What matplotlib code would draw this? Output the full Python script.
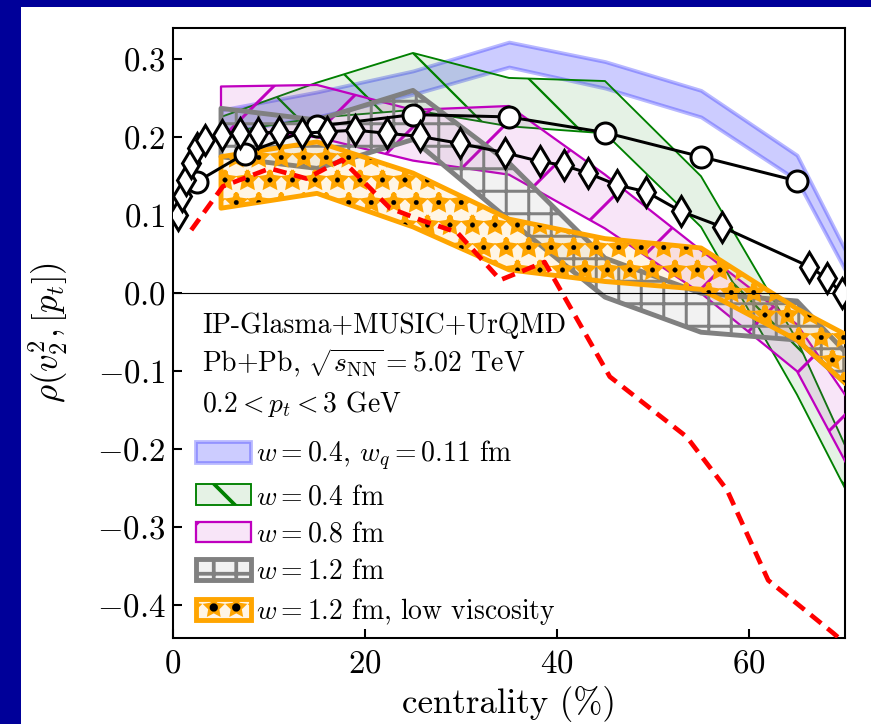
import matplotlib
matplotlib.use("Agg")
import matplotlib.pyplot as plt
from matplotlib.legend_handler import HandlerTuple

plt.rcParams.update({
    "font.family": "serif",
    "font.serif": ["cmr10"],
    "mathtext.fontset": "cm",
    "axes.formatter.use_mathtext": True,
    "axes.unicode_minus": True,
})

# band nodes (centrality %)
cent = [5, 15, 25, 35, 45, 55, 65, 75]

blue_lo = [0.205, 0.226, 0.255, 0.290, 0.263, 0.226, 0.145, -0.085]
blue_hi = [0.235, 0.258, 0.285, 0.322, 0.297, 0.260, 0.177, -0.065]

green_lo = [0.205, 0.225, 0.235, 0.214, 0.205, 0.085, -0.130, -0.370]
green_hi = [0.226, 0.270, 0.308, 0.276, 0.272, 0.150, -0.060, -0.330]

mag_lo = [0.210, 0.200, 0.170, 0.152, 0.083, 0.000, -0.100, -0.330]
mag_hi = [0.265, 0.267, 0.235, 0.240, 0.152, 0.055, -0.040, -0.220]

gray_lo = [0.175, 0.160, 0.197, 0.094, -0.005, -0.050, -0.060, -0.170]
gray_hi = [0.237, 0.222, 0.260, 0.167, 0.045, 0.000, -0.010, -0.140]

orng_lo = [0.109, 0.128, 0.085, 0.030, 0.015, 0.005, -0.060, -0.170]
orng_hi = [0.175, 0.194, 0.154, 0.095, 0.070, 0.058, -0.020, -0.085]

# open circles
circ_x = [2.5, 7.5, 15, 25, 35, 45, 55, 65]
circ_y = [0.143, 0.179, 0.214, 0.229, 0.226, 0.206, 0.175, 0.144]

# open diamonds
dia_x = [0.5, 0.9, 1.4, 1.9, 2.5, 3.3, 5.1, 7.0, 8.9, 11.0, 13.4, 16.0, 19.0,
         22.3, 25.7, 29.9, 34.6, 38.2, 40.7, 43.2, 46.2, 49.3, 52.9, 57.2,
         66.3, 68.1, 69.7]
dia_y = [0.100, 0.124, 0.145, 0.167, 0.186, 0.197, 0.203, 0.205, 0.205, 0.207,
         0.205, 0.207, 0.209, 0.205, 0.201, 0.192, 0.180, 0.169, 0.164, 0.154,
         0.139, 0.130, 0.105, 0.085, 0.034, 0.019, 0.000]

# red dashed curve
red_x = [1.9, 5.2, 10.1, 13.9, 17.6, 22.6, 26.0, 29.6, 34.1, 38.7, 45.5,
         53.5, 57.7, 62.0, 68.8, 72.0]
red_y = [0.081, 0.137, 0.160, 0.147, 0.171, 0.109, 0.093, 0.078, 0.017, 0.040,
         -0.107, -0.184, -0.252, -0.368, -0.436, -0.470]

labels = [r"$w=0.4$, $w_q=0.11$ fm", r"$w=0.4$ fm", r"$w=0.8$ fm",
          r"$w=1.2$ fm", r"$w=1.2$ fm, low viscosity"]

DPI = 270
fig = plt.figure(figsize=(871 / DPI, 724 / DPI), dpi=DPI, facecolor="#000099")
fig.add_artist(plt.Rectangle((21 / 871, 0), 1, 1 - 7 / 724, transform=fig.transFigure,
                             facecolor="white", edgecolor="none", zorder=-10))
ax = fig.add_axes([173 / 871, 86 / 724, 672 / 871, 610 / 724])


def band(lo, hi, hlw, **kw):
    with plt.rc_context({"hatch.linewidth": hlw}):
        coll = ax.fill_between(cent, lo, hi, **kw)
    if hasattr(coll, "set_hatch_linewidth"):
        coll.set_hatch_linewidth(hlw)
    return coll


b1 = band(blue_lo, blue_hi, 0.5, facecolor=(0, 0, 1, 0.2),
          edgecolor=(0, 0, 1, 0.28), linewidth=1.0, zorder=1)
b2 = band(green_lo, green_hi, 0.6, facecolor=(0, 0.5, 0, 0.1),
          edgecolor="green", linewidth=0.5, hatch="\\", zorder=2)
b3 = band(mag_lo, mag_hi, 0.8, facecolor=(0.75, 0, 0.75, 0.1),
          edgecolor="m", linewidth=0.6, hatch="/", zorder=3)
b4 = band(gray_lo, gray_hi, 0.8, facecolor=(0.5, 0.5, 0.5, 0.1),
          edgecolor="gray", linewidth=1.3, hatch="++", zorder=4)
b5 = band(orng_lo, orng_hi, 1.2, facecolor=(1, 0.647, 0, 0.1),
          edgecolor="orange", linewidth=1.3, hatch="**", zorder=5)
b5d = band(orng_lo, orng_hi, 0.1, facecolor="none",
           edgecolor="k", linewidth=0, hatch="..", zorder=5)

ax.plot(red_x, red_y, color="red", ls=(0, (2.9, 1.7)), lw=1.25, zorder=6)
ax.axhline(0, color="k", lw=0.3, zorder=6)
ax.plot(circ_x, circ_y, "-o", color="k", lw=0.8, ms=5.6, mfc="white",
        mec="k", mew=0.8, zorder=7)
ax.plot(dia_x, dia_y, "-d", color="k", lw=0.8, ms=5.8, mfc="white",
        mec="k", mew=0.8, zorder=8)

ax.set_xlim(0, 70)
ax.set_ylim(-0.442, 0.340)
ax.set_xticks([0, 20, 40, 60])
ax.set_yticks([-0.4, -0.3, -0.2, -0.1, 0.0, 0.1, 0.2, 0.3])
ax.tick_params(direction="in", length=2.5, width=0.55, labelsize=8.8)
ax.tick_params(axis="y", pad=2)
ax.tick_params(axis="x", pad=3)
for s in ax.spines.values():
    s.set_linewidth(0.55)

ax.set_xlabel("centrality (%)", fontsize=9.3, labelpad=2)
ax.set_ylabel(r"$\rho(v_2^2, [p_t])$", fontsize=9.3, labelpad=7)

txt = ["IP-Glasma+MUSIC+UrQMD", r"Pb+Pb, $\sqrt{s_{\rm NN}}=5.02$ TeV",
       r"$0.2<p_t<3$ GeV"]
for t, yy in zip(txt, [0.500, 0.436, 0.370]):
    ax.text(0.043, yy, t, transform=ax.transAxes, fontsize=7.4, va="baseline")

ax.legend([b1, b2, b3, b4, (b5, b5d)], labels, loc="upper left",
          bbox_to_anchor=(0.034, 0.327), frameon=False, fontsize=7.4,
          borderpad=0, borderaxespad=0, handlelength=2.0, handleheight=0.75,
          handletextpad=0.15, labelspacing=0.4,
          handler_map={tuple: HandlerTuple(ndivide=1, pad=0)})

fig.savefig("out.png", dpi=DPI)
